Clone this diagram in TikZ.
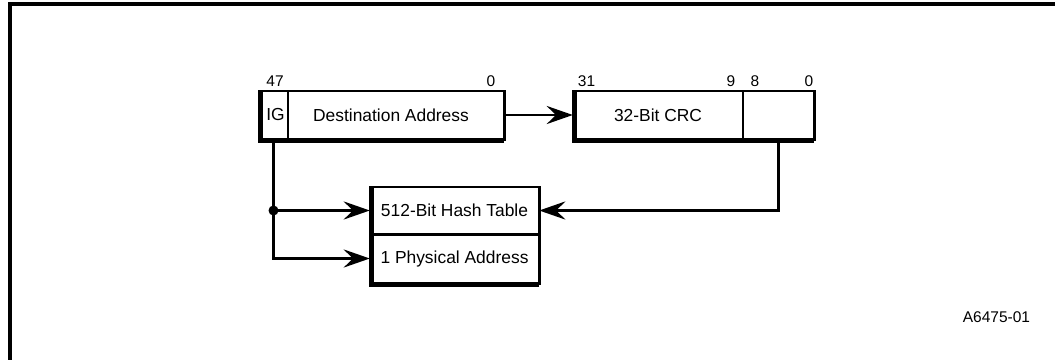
\documentclass[tikz,border=0pt]{standalone}
\usepackage{fontspec}
\setmainfont{Liberation Sans}
\usetikzlibrary{arrows.meta}
\tikzset{
  cell/.style={inner sep=0pt, minimum height=48pt, font=\fontsize{17.4}{20}\selectfont},
  bitno/.style={inner sep=0pt, font=\fontsize{15.5}{18}\selectfont},
  frame/.style={line width=2.6pt, line join=miter},
  divider/.style={line width=1.6pt},
  shade/.style={line width=5pt, line join=miter},
  wire/.style={line width=2.6pt, line join=miter},
  arr/.style={wire, -{Stealth[length=26pt, width=18pt, inset=9pt]}},
}
\begin{document}
\begin{tikzpicture}[x=1pt, y=1pt]
\useasboundingbox (0,0) rectangle (1055,-359);

% outer frame
\draw[line width=3.2pt, line join=miter] (10,-362) -- (10,-4) -- (1058,-4);

% destination address register
\node[cell, minimum width=29pt] (ig) at (273.5,-115) {};
\node[cell] (iglbl) at (275.5,-115) {IG};
\node[cell, minimum width=216pt] (dest) at (396,-115) {};
\node[cell] (destlbl) at (391,-115) {Destination Address};
\draw[frame] (ig.north west) rectangle (dest.south east);
\draw[divider] (ig.north east) -- (ig.south east);
\draw[shade] ([xshift=1.2pt]ig.north west) -- ([xshift=1.2pt,yshift=-1.2pt]ig.south west) -- ([yshift=-1.2pt]dest.south east);
\node[bitno] (b47) at (275,-81) {47};
\node[bitno] (b0a) at (491,-81) {0};

% CRC register
\node[cell, minimum width=170pt] (crc) at (658,-115) {32-Bit CRC};
\node[cell, minimum width=71pt] (crclow) at (778.5,-115) {};
\draw[frame] (crc.north west) rectangle (crclow.south east);
\draw[divider] (crc.north east) -- (crc.south east);
\draw[shade] ([xshift=1.2pt]crc.north west) -- ([xshift=1.2pt,yshift=-1.2pt]crc.south west) -- ([yshift=-1.2pt]crclow.south east);
\node[bitno] (b31) at (586.5,-81) {31};
\node[bitno] (b9) at (731,-81) {9};
\node[bitno] (b8) at (755,-81) {8};
\node[bitno] (b0b) at (809,-81) {0};

% address filter tables
\node[cell, minimum width=169pt, minimum height=47pt] (hash) at (454.5,-210.5) {512-Bit Hash Table};
\node[cell, minimum width=169pt, minimum height=49pt] (phys) at (454.5,-258.5) {1 Physical Address};
\draw[frame] (hash.north west) rectangle (phys.south east);
\draw[frame] (hash.south west) -- (hash.south east);
\draw[shade] ([xshift=1.2pt]hash.north west) -- ([xshift=1.2pt,yshift=-1.2pt]phys.south west) -- ([yshift=-1.2pt]phys.south east);

% connections
\draw[arr] (dest.east) -- (crc.west);
\draw[arr] ([yshift=-2pt]crclow.south) |- (hash.east);
\coordinate (split) at (ig.south |- hash.west);
\draw[arr] (split) -- (hash.west);
\draw[arr] ([yshift=-2pt]ig.south) |- (phys.west);
\fill (split) circle (5pt);

\node[bitno] (fig) at (996.5,-317) {A6475-01};
\end{tikzpicture}
\end{document}
